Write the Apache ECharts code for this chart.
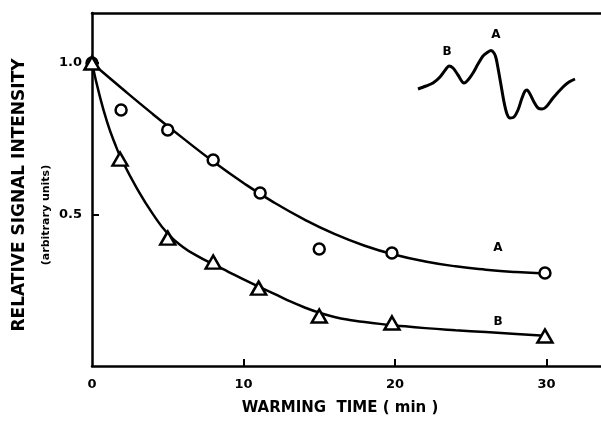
<!DOCTYPE html>
<html>
<head>
<meta charset="utf-8">
<script src="https://cdn.jsdelivr.net/npm/echarts@6/dist/echarts.min.js"></script>
<style>
	html, body { margin: 0; padding: 0; background: #fff; }
	#chart { width: 601px; height: 427px; }
</style>
</head>
<body>
<div id="chart"></div>
<script>
/*数据*/
var xTicks = [0, 10, 20, 30];
var yTicks = [0.5, 1.0];

// 测量点 A (圆) 和 B (三角)
var pointsA = [[0, 1.0], [1.92, 0.845], [5.0, 0.779], [8.0, 0.68], [11.1, 0.571], [15.0, 0.386], [19.8, 0.373], [29.9, 0.307]];
var pointsB = [[0, 1.0], [1.85, 0.683], [5.0, 0.422], [8.0, 0.343], [11.0, 0.257], [15.0, 0.165], [19.8, 0.142], [29.9, 0.099]];

// 拟合曲线
var curveA = [[0, 1.0], [2, 0.915], [4, 0.832], [6, 0.752], [8, 0.675], [10, 0.604], [12, 0.54], [14, 0.484], [16, 0.436], [18, 0.397], [20, 0.367], [22, 0.345], [24, 0.329], [26, 0.318], [28, 0.31], [29.9, 0.305]];
var curveB = [[0, 1.0], [0.5, 0.893], [1, 0.805], [1.5, 0.735], [2, 0.677], [3, 0.583], [4, 0.503], [5, 0.437], [6, 0.393], [7, 0.362], [8, 0.336], [9, 0.311], [10, 0.286], [11, 0.262], [12, 0.239], [13, 0.215], [14, 0.194], [15, 0.176], [16, 0.162], [17, 0.152], [18, 0.145], [19, 0.139], [20, 0.134], [22, 0.125], [24, 0.118], [26, 0.112], [28, 0.106], [29.9, 0.1]];

// 曲线标注
var curveLabels = [[26.8, 0.39, 'A'], [26.8, 0.145, 'B']];

// 插图: ESR 谱线
var insetTrace = [[0, 41], [8, 44], [15, 47], [22, 53], [28, 61], [31, 64], [35, 62], [40, 55], [46, 47], [50, 50], [55, 57], [60, 66], [65, 74], [70, 78], [73, 79.5], [76, 77], [78, 72], [80, 62], [83, 45], [86, 28], [89, 16], [92, 12], [96, 13], [100, 20], [104, 32], [107, 39], [109, 40], [112, 36], [116, 28], [120, 22], [124, 21], [128, 23], [135, 32], [145, 43], [151, 48], [157, 51]];
var insetLabels = [[29, 78, 'B'], [78, 95, 'A']];

var font = 'DejaVu Sans';

var myChart = echarts.init(document.getElementById('chart'));

var textLabel = {
	show: true, position: 'inside', color: '#000', fontFamily: font, fontWeight: 'bold', fontSize: 12,
	formatter: function(p) { return p.data[2]; }
};

var option = {
	backgroundColor: '#fff',
	animation: false,
	grid: [{
		left: 92, top: 13, right: 0, bottom: 61
	}, {
		left: 418, top: 0, width: 160, height: 130
	}],
	xAxis: [{
		type: 'value', gridIndex: 0, min: 0, max: 33.6,
		splitLine: { show: false },
		axisLine: { lineStyle: { color: '#000', width: 2.5 } },
		axisTick: { inside: true, length: 7, customValues: [10, 20, 30], lineStyle: { color: '#000', width: 2 } },
		axisLabel: { customValues: xTicks, color: '#000', fontFamily: font, fontWeight: 'bold', fontSize: 13, margin: 12 }
	}, {
		// 上边框
		type: 'value', gridIndex: 0, position: 'top', min: 0, max: 33.6,
		splitLine: { show: false },
		axisLine: { lineStyle: { color: '#000', width: 2.5 } },
		axisTick: { show: false },
		axisLabel: { show: false }
	}, {
		type: 'value', gridIndex: 1, min: 0, max: 160, show: false
	}],
	yAxis: [{
		type: 'value', gridIndex: 0, min: 0, max: 1.165,
		splitLine: { show: false },
		axisLine: { lineStyle: { color: '#000', width: 2.5 } },
		axisTick: { inside: true, length: 7, customValues: yTicks, lineStyle: { color: '#000', width: 2 } },
		axisLabel: {
			customValues: yTicks, color: '#000', fontFamily: font, fontWeight: 'bold', fontSize: 13, margin: 10,
			formatter: function(v) { return v.toFixed(1); }
		}
	}, {
		type: 'value', gridIndex: 1, min: 0, max: 130, show: false
	}],
	graphic: [{
		type: 'text', rotation: Math.PI / 2, x: 20, y: 195,
		style: { text: 'RELATIVE SIGNAL INTENSITY', fill: '#000', font: 'bold 17px "DejaVu Sans"', align: 'center', verticalAlign: 'middle' }
	}, {
		type: 'text', rotation: Math.PI / 2, x: 46, y: 215,
		style: { text: '(arbitrary units)', fill: '#000', font: 'bold 11px "DejaVu Sans"', align: 'center', verticalAlign: 'middle' }
	}, {
		type: 'text', x: 340, y: 408,
		style: { text: 'WARMING  TIME ( min )', fill: '#000', font: 'bold 15px "DejaVu Sans"', align: 'center', verticalAlign: 'middle' }
	}],
	series: [{
		name: 'curveA', type: 'line', xAxisIndex: 0, yAxisIndex: 0,
		data: curveA, smooth: 0.5, showSymbol: false,
		lineStyle: { color: '#000', width: 2.5 }
	}, {
		name: 'curveB', type: 'line', xAxisIndex: 0, yAxisIndex: 0,
		data: curveB, smooth: 0.5, showSymbol: false,
		lineStyle: { color: '#000', width: 2.5 }
	}, {
		name: 'A', type: 'scatter', xAxisIndex: 0, yAxisIndex: 0,
		data: pointsA, symbol: 'circle', symbolSize: 11,
		itemStyle: { color: '#fff', borderColor: '#000', borderWidth: 2.5, opacity: 1 }, z: 5
	}, {
		name: 'B', type: 'scatter', xAxisIndex: 0, yAxisIndex: 0,
		data: pointsB, symbol: 'triangle', symbolSize: [15, 13],
		itemStyle: { color: '#fff', borderColor: '#000', borderWidth: 2.5, opacity: 1 }, z: 5
	}, {
		name: 'labels', type: 'scatter', xAxisIndex: 0, yAxisIndex: 0,
		data: curveLabels, symbolSize: 0, itemStyle: { opacity: 1 },
		label: textLabel
	}, {
		name: 'inset', type: 'line', xAxisIndex: 2, yAxisIndex: 1,
		data: insetTrace, smooth: 0.3, showSymbol: false,
		lineStyle: { color: '#000', width: 3 }
	}, {
		name: 'insetLabels', type: 'scatter', xAxisIndex: 2, yAxisIndex: 1,
		data: insetLabels, symbolSize: 0, itemStyle: { opacity: 1 },
		label: textLabel
	}]
};

myChart.setOption(option);
</script>
</body>
</html>
